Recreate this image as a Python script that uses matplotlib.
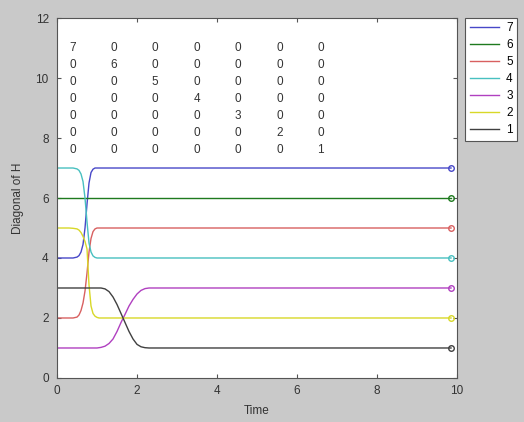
import matplotlib
matplotlib.use("Agg")
from matplotlib import pyplot as plt

# sample times (dense around the swaps) and the diagonal entries of H at those times
time = [0, 0.3, 0.4, 0.5, 0.55, 0.6, 0.65, 0.7, 0.75, 0.8, 0.85, 0.9, 0.95, 1.0, 1.05,
        1.1, 1.2, 1.3, 1.4, 1.5, 1.6, 1.7, 1.8, 1.9, 2.0, 2.1, 2.2, 2.3, 2.4, 9.85]

h7 = [4, 4, 4, 4.03, 4.08, 4.2, 4.45, 5.0, 5.8, 6.5, 6.85, 6.96, 7.0, 7, 7,
      7, 7, 7, 7, 7, 7, 7, 7, 7, 7, 7, 7, 7, 7, 7]
h6 = [6, 6, 6, 6, 6, 6, 6, 6, 6, 6, 6, 6, 6, 6, 6,
      6, 6, 6, 6, 6, 6, 6, 6, 6, 6, 6, 6, 6, 6, 6]
h5 = [2, 2, 2, 2.03, 2.1, 2.25, 2.5, 2.9, 3.5, 4.2, 4.65, 4.88, 4.97, 5.0, 5,
      5, 5, 5, 5, 5, 5, 5, 5, 5, 5, 5, 5, 5, 5, 5]
h4 = [7, 7, 7, 6.97, 6.92, 6.8, 6.55, 6.0, 5.2, 4.5, 4.2, 4.07, 4.02, 4.0, 4,
      4, 4, 4, 4, 4, 4, 4, 4, 4, 4, 4, 4, 4, 4, 4]
h3 = [1, 1, 1, 1, 1, 1, 1, 1, 1, 1, 1, 1, 1, 1, 1.01,
      1.02, 1.06, 1.15, 1.3, 1.55, 1.85, 2.12, 2.4, 2.62, 2.8, 2.92, 2.98, 3.0, 3, 3]
h2 = [5, 5, 4.99, 4.97, 4.93, 4.85, 4.72, 4.55, 4.3, 3.1, 2.4, 2.15, 2.06, 2.02, 2.0,
      2, 2, 2, 2, 2, 2, 2, 2, 2, 2, 2, 2, 2, 2, 2]
h1 = [3, 3, 3, 3, 3, 3, 3, 3, 3, 3, 3, 3, 3, 3, 3,
      3, 2.97, 2.88, 2.7, 2.45, 2.15, 1.85, 1.55, 1.3, 1.12, 1.04, 1.01, 1.0, 1, 1]

labels = ["7", "6", "5", "4", "3", "2", "1"]
colors = ["#4848c8", "#1e7a1e", "#d86060", "#48c0c0", "#b040c0", "#d8d828", "#404040"]

# final matrix printed on the plot
H_final = [
    [7, 0, 0, 0, 0, 0, 0],
    [0, 6, 0, 0, 0, 0, 0],
    [0, 0, 5, 0, 0, 0, 0],
    [0, 0, 0, 4, 0, 0, 0],
    [0, 0, 0, 0, 3, 0, 0],
    [0, 0, 0, 0, 0, 2, 0],
    [0, 0, 0, 0, 0, 0, 1],
]

plt.rcParams["font.family"] = ["Liberation Sans", "DejaVu Sans"]

fig = plt.figure(figsize=(5.24, 4.22), dpi=100, facecolor="#c9c9c9")
ax = fig.add_axes([0.1088, 0.1043, 0.7634, 0.853])

for h, lab, c in zip([h7, h6, h5, h4, h3, h2, h1], labels, colors):
    ax.plot(time, h, color=c, lw=1.0, label=lab,
            marker="o", markevery=[len(time) - 1], markersize=4,
            mfc="none", mec=c, mew=1.0)

for i, row in enumerate(H_final):
    for j, v in enumerate(row):
        ax.text(0.3 + 1.035 * j, 11.0 - 0.565 * i, str(v), fontsize=8.5,
                color="#333333", ha="left", va="center")

ax.set_xlim(0, 10)
ax.set_ylim(0, 12)
ax.set_xticks([0, 2, 4, 6, 8, 10])
ax.set_yticks([0, 2, 4, 6, 8, 10, 12])
ax.tick_params(direction="in", top=True, right=True, length=3, labelsize=8.5,
               labelcolor="#333333", color="#555555")
ax.tick_params(axis="x", pad=5)
ax.tick_params(axis="y", pad=6)
for s in ax.spines.values():
    s.set_color("#555555")
    s.set_linewidth(0.8)
ax.set_xlabel("Time", fontsize=8.5, color="#333333", labelpad=6)
ax.set_ylabel("Diagonal of H", fontsize=8.5, color="#333333", labelpad=8)

leg = fig.legend(loc="upper left", bbox_to_anchor=(0.887, 0.958), fontsize=8.5,
                 frameon=True, fancybox=False, handlelength=2.5, handletextpad=0.6,
                 borderpad=0.4, labelspacing=0.42, borderaxespad=0,
                 facecolor="white", framealpha=1)
leg.get_frame().set_edgecolor("#555555")
leg.get_frame().set_linewidth(0.8)
for line in leg.get_lines():
    line.set_marker("")

fig.savefig("out.png", dpi=100, facecolor=fig.get_facecolor())
